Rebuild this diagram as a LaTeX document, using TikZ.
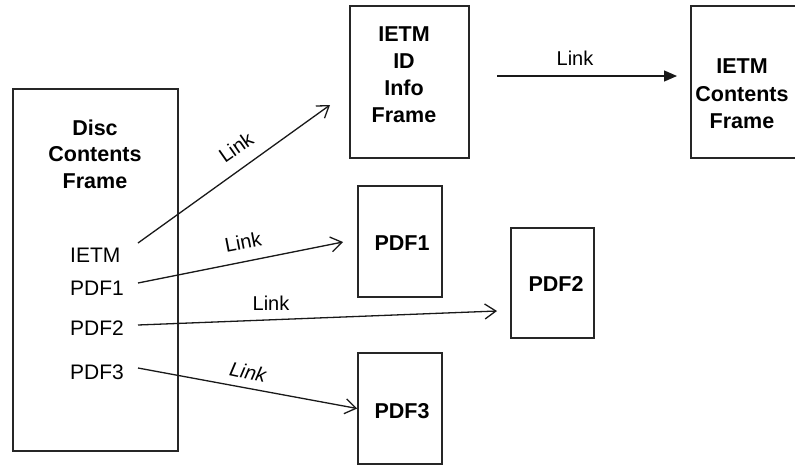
\documentclass[tikz,border=0pt]{standalone}
\usepackage{fontspec}
\setmainfont{Liberation Sans}
\usetikzlibrary{arrows.meta}
\begin{document}
\begin{tikzpicture}[x=1pt,y=-1pt,
  frame/.style={draw=black!85, line width=1.6pt, inner sep=0pt},
  ttl/.style={font=\fontsize{21.5}{26}\selectfont\bfseries, inner sep=0pt, anchor=base},
  lbl/.style={font=\fontsize{21}{26}\selectfont, inner sep=0pt, anchor=base west},
  lnk/.style={font=\fontsize{20}{24}\selectfont, inner sep=0pt},
  conn/.style={draw=black!90, line width=1.3pt, -{Straight Barb[length=11pt,width=15pt]}},
  fconn/.style={draw=black!90, line width=1.3pt, -{Triangle[length=13pt,width=11pt]}}
]
\clip (0,0) rectangle (795,466);
\fill[white] (0,0) rectangle (795,466);

% boxes
\node[frame, minimum width=165pt, minimum height=362pt] (disc) at (95.5,270) {};
\node[frame, minimum width=119pt, minimum height=152pt] (ietmid) at (409.5,82) {};
\node[frame, minimum width=109pt, minimum height=152pt] (ietmc) at (745.5,82) {};
\node[frame, minimum width=84pt, minimum height=111pt] (pdf1) at (400,241.5) {};
\node[frame, minimum width=83pt, minimum height=110pt] (pdf2) at (552.5,283) {};
\node[frame, minimum width=84pt, minimum height=111pt] (pdf3) at (400,408.5) {};

% titles
\node[ttl] (d1) at (95,135) {Disc};
\node[ttl] (d2) at (95,161.5) {Contents};
\node[ttl] (d3) at (95,188) {Frame};
\node[ttl] (i1) at (404,41.5) {IETM};
\node[ttl] (i2) at (404,68.5) {ID};
\node[ttl] (i3) at (404,95.5) {Info};
\node[ttl] (i4) at (404,122.5) {Frame};
\node[ttl] (c1) at (742,73) {IETM};
\node[ttl] (c2) at (742,101) {Contents};
\node[ttl] (c3) at (742,128) {Frame};
\node[ttl] (p1) at (402,250) {PDF1};
\node[ttl] (p2) at (556,291) {PDF2};
\node[ttl] (p3) at (402,418) {PDF3};

% entries
\node[lbl] (eietm) at (70,262.5) {IETM};
\node[lbl] (epdf1) at (70,295) {PDF1};
\node[lbl] (epdf2) at (70,335.5) {PDF2};
\node[lbl] (epdf3) at (70,379.5) {PDF3};

% connector end points
\coordinate (s1) at (138,243);
\coordinate (s2) at (138,283);
\coordinate (s3) at (138,325);
\coordinate (s4) at (138,368);
\coordinate (t1) at (330,105);
\coordinate (t2) at (343,242);
\coordinate (t3) at (497,311);
\coordinate (t0s) at (497,76);
\coordinate (t0e) at (677,76);

\draw[conn] (s1) -- (t1);
\draw[conn] (s2) -- (t2);
\draw[conn] (s3) -- (t3);
\draw[conn] (s4) -- (pdf3.west);
\draw[fconn] (t0s) -- (t0e);

% link labels
\node[lnk, rotate=35] (l1) at (236,147) {Link};
\node[lnk, rotate=11] (l2) at (243,242) {Link};
\node[lnk, anchor=base] (l3) at (271,310) {Link};
\node[lnk, rotate=-12, font=\fontsize{20}{24}\selectfont\itshape] (l4) at (248,372) {Link};
\node[lnk, anchor=base] (l0) at (575,65) {Link};
\end{tikzpicture}
\end{document}
